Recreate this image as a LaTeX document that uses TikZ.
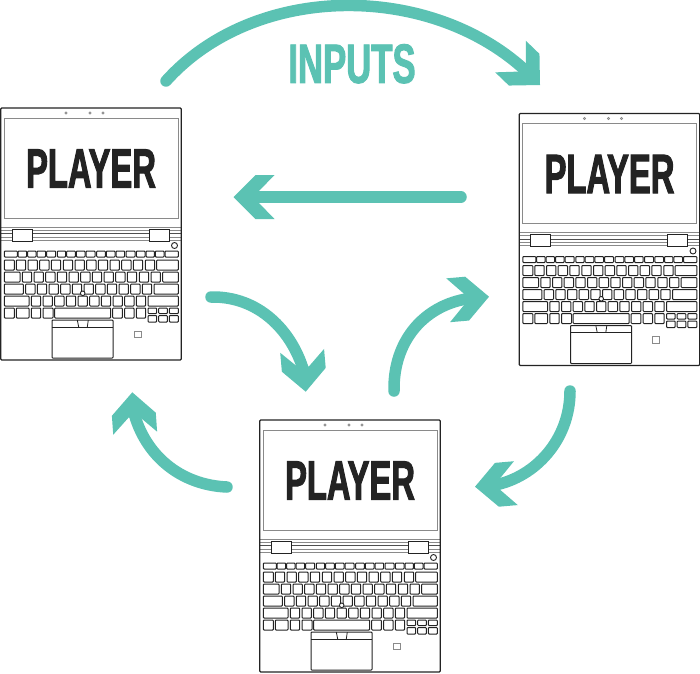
\documentclass[tikz,border=0pt]{standalone}
\usepackage{fontspec}
\newfontfamily\playerfont{Liberation Sans Bold}[FakeStretch=0.59,FakeBold=1.7]
\newfontfamily\inputsfont{Liberation Sans Bold}[FakeStretch=0.625,FakeBold=1.7]
\usepackage{tikz}
\definecolor{flowteal}{HTML}{5BC2B3}
\definecolor{inkdark}{HTML}{232323}
\definecolor{screengray}{HTML}{8A8A8A}
\newcommand{\keyrow}[3]{\foreach \a/\b in {#3} {\draw[keycap] (\a/3,#1) rectangle (\b/3,#2);}}
\tikzset{
    keycap/.style={draw=inkdark, line width=1pt, rounded corners=0.8pt},
    thinline/.style={draw=screengray, line width=0.7pt},
    flowline/.style={draw=flowteal, line width=11.5pt, line cap=round},
    chevron/.pic={
        \fill[flowteal] (0,0) -- (-22,22) -- (-41,22) -- (-25,5.5) -- (-25,-5.5) -- (-41,-22) -- (-22,-22) -- cycle;
    },
    laptop/.pic={
        % lid
        \draw[thinline] (4,118) rectangle (178,218);
        \foreach \x in {66,90,103} {
            \draw[thinline, line width=0.6pt] (\x,113) circle (1.1);
        }
        \node[font=\playerfont\fontsize{55.5}{55.5}\selectfont, text=inkdark, inner sep=0pt] (label) at (91,168.5) {PLAYER};
        % hinge
        \foreach \y in {227,230,237,240} {
            \draw[thinline] (1,\y) -- (181,\y);
        }
        \draw[draw=inkdark!80, line width=1pt] (1,233.5) -- (181,233.5);
        \draw[fill=white, draw=inkdark, line width=0.9pt] (12,229) rectangle (32,241);
        \draw[fill=white, draw=inkdark, line width=0.9pt] (149,229) rectangle (169,241);
        \draw[draw=inkdark, line width=1.2pt, rounded corners=1pt] (0.7,360) -- (0.7,108) -- (181.3,108) -- (181.3,360) -- cycle;
        \draw[draw=inkdark, line width=0.9pt] (174.5,245.5) circle (3);
        % keyboard
        \keyrow{251}{257}{13/52,54/80,83/108,111/137,140/167,172/197,200/226,229/255,258/285,290/316,319/345,348/374,378/405,409/435,438/463,466/492,495/535}
        \keyrow{260}{270}{13/43,49/77,84/112,119/147,154/182,190/218,225/253,260/288,295/323,330/358,365/393,400/428,436/464,470/535}
        \keyrow{272}{282}{13/60,67/95,102/130,137/165,172/200,207/235,242/270,277/305,312/340,347/375,382/410,418/446,453/481,488/535}
        \keyrow{284}{294}{13/70,77/105,112/140,147/175,182/210,217/245,252/280,287/315,322/350,357/385,392/420,427/455,462/535}
        \keyrow{296}{306}{13/87,94/122,129/157,164/192,199/227,234/262,269/297,304/332,339/367,374/402,409/437,444/535}
        \keyrow{308}{318}{13/43,49/87,94/122,129/159,164/332,338/367,374/402,409/437}
        \keyrow{308}{313.5}{444/470,476/502,508/535}
        \keyrow{315.5}{322}{444/470,476/502,508/535}
        \draw[fill=white, draw=inkdark, line width=0.9pt] (82.7,293.3) circle (2.3);
        % touchpad
        \draw[keycap] (52,320) rectangle (113,358);
        \draw[draw=inkdark, line width=1pt] (52,327) -- (113,327);
        \draw[draw=inkdark, line width=0.8pt] (77.3,320) -- (78.7,327) (88.3,320) -- (87.3,327);
        \draw[thinline] (134.3,331) rectangle (141,337.5);
    }
}

\begin{document}
\begin{tikzpicture}[x=1pt, y=-1pt]
    \useasboundingbox (0,0) rectangle (700,673);

    % laptops
    \pic (left) at (0,0) {laptop};
    \pic (right) at (518.5,5.5) {laptop};
    \pic (bottom) at (259,312) {laptop};

    % arrow ends
    \coordinate (startA) at (166,81);
    \coordinate (endA) at (526,71);
    \coordinate (tipA) at (540,85);
    \coordinate (startB) at (461,197);
    \coordinate (endB) at (253,197);
    \coordinate (tipB) at (233.5,197);
    \coordinate (startC) at (211,297);
    \coordinate (endC) at (304,372);
    \coordinate (tipC) at (305.7,391.7);
    \coordinate (startD) at (394,391);
    \coordinate (endD) at (469,298.5);
    \coordinate (tipD) at (489,296.7);
    \coordinate (startE) at (570,391);
    \coordinate (endE) at (495,485);
    \coordinate (tipE) at (475,486.7);
    \coordinate (startF) at (227,487);
    \coordinate (endF) at (133.7,412);
    \coordinate (tipF) at (132.3,392.3);

    % arrows
    \draw[flowline] (startA) .. controls (255,-18) and (430,-18) .. (endA);
    \pic[rotate=-44] at (tipA) {chevron};
    \draw[flowline] (startB) -- (endB);
    \pic[rotate=180] at (tipB) {chevron};
    \draw[flowline] (startC) .. controls (258,296) and (292,330) .. (endC);
    \pic[rotate=-85] at (tipC) {chevron};
    \draw[flowline] (startD) .. controls (393,340) and (425,305) .. (endD);
    \pic[rotate=5] at (tipD) {chevron};
    \draw[flowline] (startE) .. controls (570,440) and (535,477) .. (endE);
    \pic[rotate=185] at (tipE) {chevron};
    \draw[flowline] (startF) .. controls (180,485) and (145,455) .. (endF);
    \pic[rotate=94] at (tipF) {chevron};

    \node[font=\inputsfont\fontsize{55.5}{55.5}\selectfont, text=flowteal, inner sep=0pt] (inputs) at (352,63.8) {INPUTS};
\end{tikzpicture}
\end{document}
